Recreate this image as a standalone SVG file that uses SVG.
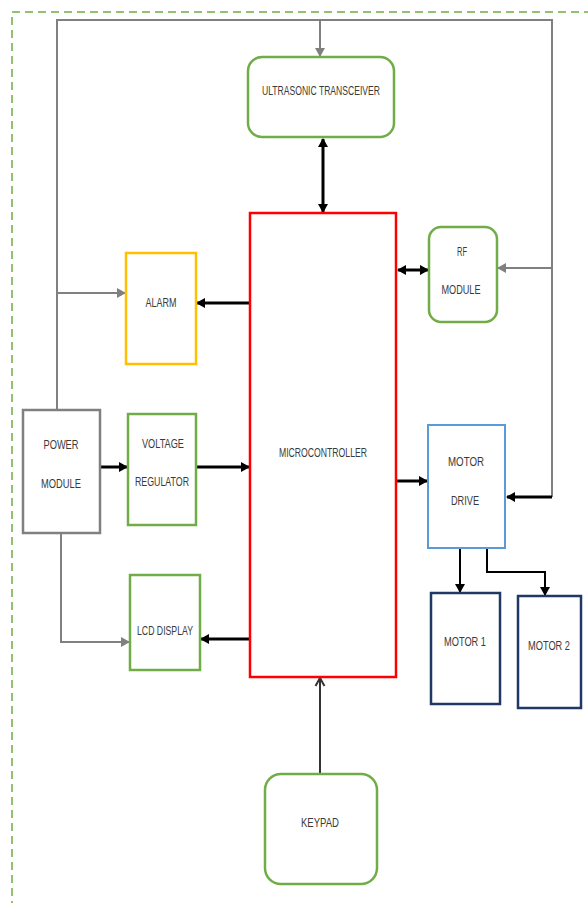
<svg xmlns="http://www.w3.org/2000/svg" width="588" height="903" viewBox="0 0 588 903">
<style>
text{font-family:"Liberation Sans",Arial,sans-serif;font-size:13px;fill:#3a3a3a;text-anchor:middle}
.g{fill:#fff;stroke:#70AD47;stroke-width:2.5}
.gray{fill:none;stroke:#808080;stroke-width:2}
.blk{fill:none;stroke:#000;stroke-width:3}
.thin{fill:none;stroke:#000;stroke-width:2}
</style>
<defs>
<marker id="ab" markerUnits="userSpaceOnUse" markerWidth="12" markerHeight="12" refX="9" refY="6" orient="auto-start-reverse"><path d="M1,1 L10,6 L1,11 Z" fill="#000"/></marker>
<marker id="ag" markerUnits="userSpaceOnUse" markerWidth="12" markerHeight="12" refX="9" refY="6" orient="auto"><path d="M1,1 L10,6 L1,11 Z" fill="#808080"/></marker>
<marker id="ao" markerUnits="userSpaceOnUse" markerWidth="12" markerHeight="12" refX="10" refY="6" orient="auto"><path d="M2,1.5 L10,6 L2,10.5" fill="none" stroke="#333" stroke-width="2"/></marker>
</defs>
<rect x="12" y="12" width="620" height="940" fill="none" stroke="#70AD47" stroke-width="1.5" stroke-dasharray="8,5"/>
<g id="connectors">
<path class="gray" d="M57,410 V20 H552 V497"/>
<path class="gray" d="M320,20 V56" marker-end="url(#ag)"/>
<path class="gray" d="M57,293 H125" marker-end="url(#ag)"/>
<path class="gray" d="M552,268 H498" marker-end="url(#ag)"/>
<path class="gray" d="M61,533 V642 H129" marker-end="url(#ag)"/>
<path class="blk" d="M552,497 H507" marker-end="url(#ab)"/>
<path class="blk" d="M323,139 V212" marker-start="url(#ab)" marker-end="url(#ab)"/>
<path class="blk" d="M250,303 H197" marker-end="url(#ab)"/>
<path class="blk" d="M100,467 H127" marker-end="url(#ab)"/>
<path class="blk" d="M196,467 H249" marker-end="url(#ab)"/>
<path class="blk" d="M250,639 H201" marker-end="url(#ab)"/>
<path class="blk" d="M398,270 H428" stroke-width="4" marker-start="url(#ab)" marker-end="url(#ab)"/>
<path class="blk" d="M396,481 H427" marker-end="url(#ab)"/>
<path class="thin" d="M460,548 V592" marker-end="url(#ab)"/>
<path class="thin" d="M487,548 V572 H545 V595" marker-end="url(#ab)"/>
<path d="M320,774 V678" fill="none" stroke="#333" stroke-width="2" marker-end="url(#ao)"/>
</g>
<g id="ultrasonic">
<rect class="g" x="248" y="57" width="146" height="80" rx="14"/>
<text x="321" y="95" textLength="118" lengthAdjust="spacingAndGlyphs">ULTRASONIC TRANSCEIVER</text>
</g>
<g id="microcontroller">
<rect x="250" y="213" width="146" height="464" fill="#fff" stroke="#FF0000" stroke-width="2.5"/>
<text x="323" y="457" textLength="88" lengthAdjust="spacingAndGlyphs">MICROCONTROLLER</text>
</g>
<g id="alarm">
<rect x="126" y="253" width="70" height="111" fill="#fff" stroke="#FFC000" stroke-width="2.5"/>
<text x="161" y="307" textLength="31" lengthAdjust="spacingAndGlyphs">ALARM</text>
</g>
<g id="rf">
<rect class="g" x="429" y="227" width="68" height="95" rx="12"/>
<text x="462" y="256" textLength="10" lengthAdjust="spacingAndGlyphs">RF</text>
<text x="461" y="294" textLength="39" lengthAdjust="spacingAndGlyphs">MODULE</text>
</g>
<g id="power">
<rect x="23" y="410" width="77" height="123" fill="#fff" stroke="#808080" stroke-width="2.5"/>
<text x="61" y="449" textLength="35" lengthAdjust="spacingAndGlyphs">POWER</text>
<text x="61" y="488" textLength="40" lengthAdjust="spacingAndGlyphs">MODULE</text>
</g>
<g id="regulator">
<rect class="g" x="128" y="414" width="68" height="111"/>
<text x="163" y="448" textLength="42" lengthAdjust="spacingAndGlyphs">VOLTAGE</text>
<text x="162" y="486" textLength="54" lengthAdjust="spacingAndGlyphs">REGULATOR</text>
</g>
<g id="lcd">
<rect class="g" x="130" y="575" width="70" height="95"/>
<text x="165" y="635" textLength="56" lengthAdjust="spacingAndGlyphs">LCD DISPLAY</text>
</g>
<g id="motordrive">
<rect x="428" y="425" width="77" height="123" fill="#fff" stroke="#5B9BD5" stroke-width="2"/>
<text x="466" y="466" textLength="36" lengthAdjust="spacingAndGlyphs">MOTOR</text>
<text x="465" y="505" textLength="28" lengthAdjust="spacingAndGlyphs">DRIVE</text>
</g>
<g id="motor1">
<rect x="431" y="593" width="69" height="111" fill="#fff" stroke="#1F3864" stroke-width="2.5"/>
<text x="465" y="646" textLength="42" lengthAdjust="spacingAndGlyphs">MOTOR 1</text>
</g>
<g id="motor2">
<rect x="518" y="596" width="63" height="112" fill="#fff" stroke="#1F3864" stroke-width="2.5"/>
<text x="549" y="650" textLength="42" lengthAdjust="spacingAndGlyphs">MOTOR 2</text>
</g>
<g id="keypad">
<rect class="g" x="265" y="774" width="112" height="110" rx="16"/>
<text x="320" y="827" textLength="38" lengthAdjust="spacingAndGlyphs">KEYPAD</text>
</g>
</svg>
